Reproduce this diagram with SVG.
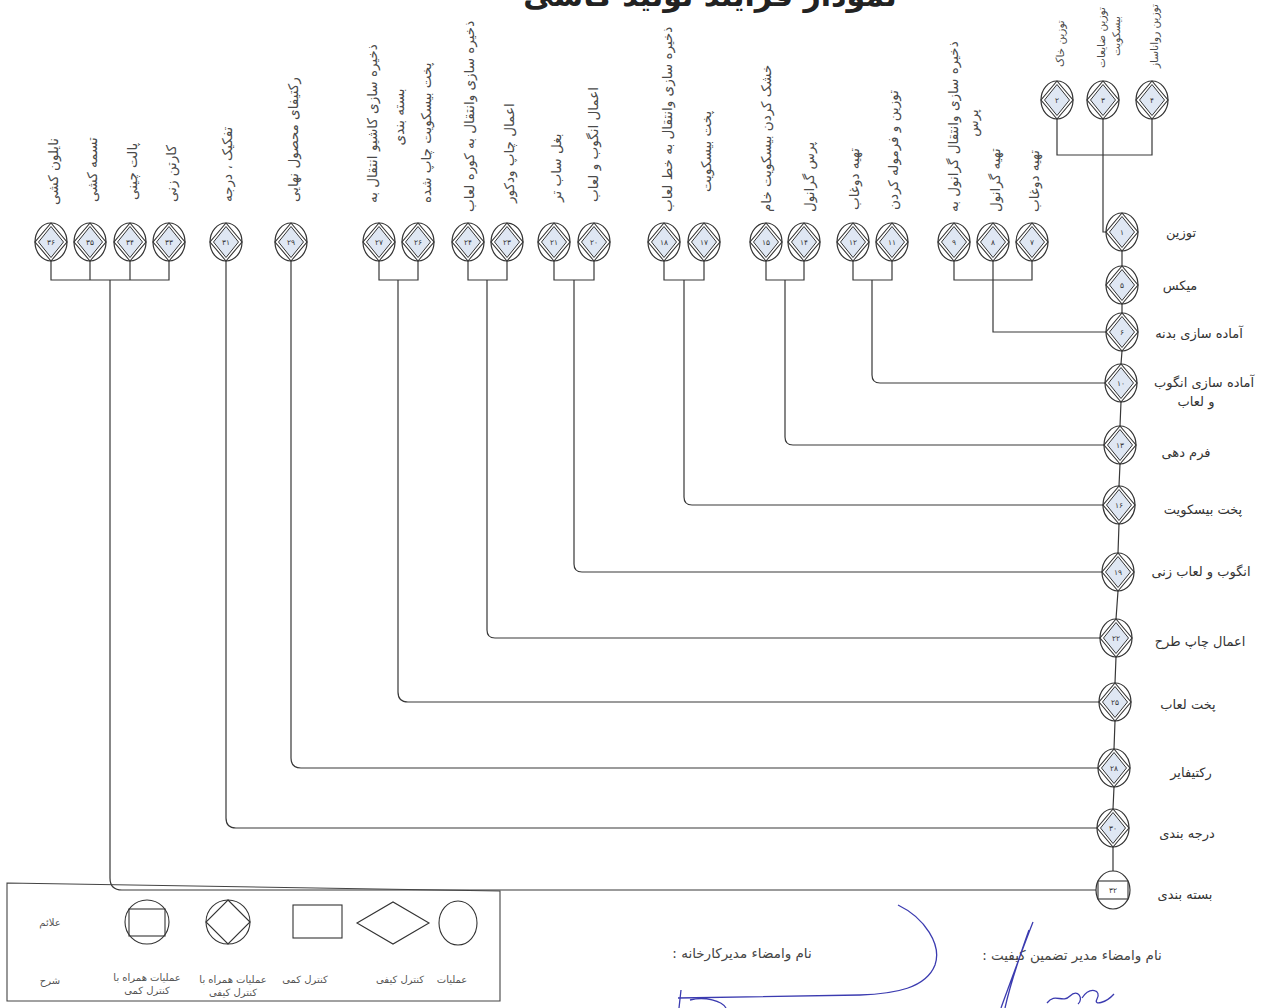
<svg xmlns="http://www.w3.org/2000/svg" xmlns:xlink="http://www.w3.org/1999/xlink" width="1269" height="1008" viewBox="0 0 1269 1008">
<style>
.ln{fill:none;stroke:#383838;stroke-width:1.2}
.num{font-family:"DejaVu Sans",sans-serif;font-size:7.5px;fill:#333;text-anchor:middle}
.vl{font-family:"DejaVu Sans",sans-serif;font-size:13.5px;fill:#4a4a4a}
.vm{font-family:"DejaVu Sans",sans-serif;font-size:13.5px;fill:#4a4a4a;text-anchor:middle}
.vt{font-family:"DejaVu Sans",sans-serif;font-size:10.5px;fill:#4a4a4a}
.vtm{font-family:"DejaVu Sans",sans-serif;font-size:10.5px;fill:#4a4a4a;text-anchor:middle}
.ml{font-family:"DejaVu Sans",sans-serif;font-size:13px;fill:#333;text-anchor:middle}
.lg{font-family:"DejaVu Sans",sans-serif;font-size:10px;fill:#555;text-anchor:middle}
.sg{font-family:"DejaVu Sans",sans-serif;font-size:13.5px;fill:#444;text-anchor:middle}
.ttl{font-family:"DejaVu Sans",sans-serif;font-size:30px;font-weight:bold;fill:#222;text-anchor:middle}
.sig{fill:none;stroke:#3b3bb0;stroke-width:1.3}
.sh{fill:none;stroke:#333;stroke-width:1.1}
</style>
<defs>
<g id="oq">
<ellipse rx="16" ry="19" fill="#fff" stroke="#333" stroke-width="1.2"/>
<polygon points="0,-19 16,0 0,19 -16,0" fill="none" stroke="#333" stroke-width="1.1"/>
<polygon points="0,-15.5 12.5,0 0,15.5 -12.5,0" fill="#dfe7f3" stroke="#333" stroke-width="1"/>
</g>
<g id="oc">
<ellipse rx="17" ry="19" fill="#fff" stroke="#333" stroke-width="1.2"/>
<rect x="-15" y="-9" width="30" height="18" fill="#fff" stroke="#333" stroke-width="1.1"/>
</g>
</defs>
<rect width="1269" height="1008" fill="#fff"/>
<text class="ttl" x="710" y="6">نمودار فرآیند تولید کاشی</text>

<g id="connectors">
<path class="ln" d="M1057,119 V155 H1152 V119 M1103,119 V232 H1106"/>
<path class="ln" d="M1122,251 L1122,266 M1122,304 L1122,313 M1122,351 L1121,364 M1121,402 L1120,426 M1120,464 L1119,486 M1119,524 L1118,553 M1118,591 L1116,619 M1116,657 L1115,683 M1115,721 L1114,749 M1114,787 L1113,809 M1113,847 L1113,871"/>
<path class="ln" d="M954,261 V280 H1032 V261 M993,261 V332 H1106"/>
<path class="ln" d="M853,261 V280 H892 V261 M872,280 V375 Q872,383 880,383 H1105"/>
<path class="ln" d="M766,261 V280 H804 V261 M785,280 V437 Q785,445 793,445 H1104"/>
<path class="ln" d="M664,261 V280 H704 V261 M684,280 V497 Q684,505 692,505 H1103"/>
<path class="ln" d="M554,261 V280 H594 V261 M574,280 V564 Q574,572 582,572 H1102"/>
<path class="ln" d="M468,261 V280 H507 V261 M487,280 V630 Q487,638 495,638 H1100"/>
<path class="ln" d="M379,261 V280 H418 V261 M398,280 V692 Q398,702 408,702 H1099"/>
<path class="ln" d="M291,261 V758 Q291,768 301,768 H1098"/>
<path class="ln" d="M226,261 V818 Q226,828 236,828 H1097"/>
<path class="ln" d="M51,261 V280 H169 V261 M90,261 V280 M130,261 V280 M110,280 V878 Q110,890 122,890 H1096"/>
</g>

<g id="n1" transform="translate(1122,232)"><use href="#oq"/><text class="num" y="3">۱</text></g>
<g id="n5" transform="translate(1122,285)"><use href="#oq"/><text class="num" y="3">۵</text></g>
<g id="n6" transform="translate(1122,332)"><use href="#oq"/><text class="num" y="3">۶</text></g>
<g id="n10" transform="translate(1121,383)"><use href="#oq"/><text class="num" y="3">۱۰</text></g>
<g id="n13" transform="translate(1120,445)"><use href="#oq"/><text class="num" y="3">۱۳</text></g>
<g id="n16" transform="translate(1119,505)"><use href="#oq"/><text class="num" y="3">۱۶</text></g>
<g id="n19" transform="translate(1118,572)"><use href="#oq"/><text class="num" y="3">۱۹</text></g>
<g id="n22" transform="translate(1116,638)"><use href="#oq"/><text class="num" y="3">۲۲</text></g>
<g id="n25" transform="translate(1115,702)"><use href="#oq"/><text class="num" y="3">۲۵</text></g>
<g id="n28" transform="translate(1114,768)"><use href="#oq"/><text class="num" y="3">۲۸</text></g>
<g id="n30" transform="translate(1113,828)"><use href="#oq"/><text class="num" y="3">۳۰</text></g>
<g id="n32" transform="translate(1113,890)"><use href="#oc"/><text class="num" y="3">۳۲</text></g>

<g id="main-labels">
<text class="ml" x="1181" y="237">توزین</text>
<text class="ml" x="1180" y="290">میکس</text>
<text class="ml" x="1199" y="338">آماده سازی بدنه</text>
<text class="ml" x="1204" y="387">آماده سازی انگوب</text>
<text class="ml" x="1196" y="406">و لعاب</text>
<text class="ml" x="1186" y="457">فرم دهی</text>
<text class="ml" x="1203" y="514">پخت بیسکویت</text>
<text class="ml" x="1201" y="576">انگوب و لعاب زنی</text>
<text class="ml" x="1200" y="646">اعمال چاپ طرح</text>
<text class="ml" x="1188" y="709">پخت لعاب</text>
<text class="ml" x="1191" y="777">رکتیفایر</text>
<text class="ml" x="1187" y="838">درجه بندی</text>
<text class="ml" x="1185" y="899">بسته بندی</text>
</g>

<g id="n2" transform="translate(1057,100)"><use href="#oq"/><text class="num" y="3">۲</text></g>
<g id="n3" transform="translate(1103,100)"><use href="#oq"/><text class="num" y="3">۳</text></g>
<g id="n4" transform="translate(1152,100)"><use href="#oq"/><text class="num" y="3">۴</text></g>
<text class="vt" transform="translate(1064,67) rotate(-90)">توزین خاک</text>
<text class="vt" transform="translate(1105,68) rotate(-90)">توزین ضایعات</text>
<text class="vtm" transform="translate(1120,36) rotate(-90)">بیسکویت</text>
<text class="vt" transform="translate(1158,68) rotate(-90)">توزین رواناساز</text>

<g id="n7" transform="translate(1032,242)"><use href="#oq"/><text class="num" y="3">۷</text></g>
<g id="n8" transform="translate(993,242)"><use href="#oq"/><text class="num" y="3">۸</text></g>
<g id="n9" transform="translate(954,242)"><use href="#oq"/><text class="num" y="3">۹</text></g>
<g id="n11" transform="translate(892,242)"><use href="#oq"/><text class="num" y="3">۱۱</text></g>
<g id="n12" transform="translate(853,242)"><use href="#oq"/><text class="num" y="3">۱۲</text></g>
<g id="n14" transform="translate(804,242)"><use href="#oq"/><text class="num" y="3">۱۴</text></g>
<g id="n15" transform="translate(766,242)"><use href="#oq"/><text class="num" y="3">۱۵</text></g>
<g id="n17" transform="translate(704,242)"><use href="#oq"/><text class="num" y="3">۱۷</text></g>
<g id="n18" transform="translate(664,242)"><use href="#oq"/><text class="num" y="3">۱۸</text></g>
<g id="n20" transform="translate(594,242)"><use href="#oq"/><text class="num" y="3">۲۰</text></g>
<g id="n21" transform="translate(554,242)"><use href="#oq"/><text class="num" y="3">۲۱</text></g>
<g id="n23" transform="translate(507,242)"><use href="#oq"/><text class="num" y="3">۲۳</text></g>
<g id="n24" transform="translate(468,242)"><use href="#oq"/><text class="num" y="3">۲۴</text></g>
<g id="n26" transform="translate(418,242)"><use href="#oq"/><text class="num" y="3">۲۶</text></g>
<g id="n27" transform="translate(379,242)"><use href="#oq"/><text class="num" y="3">۲۷</text></g>
<g id="n29" transform="translate(291,242)"><use href="#oq"/><text class="num" y="3">۲۹</text></g>
<g id="n31" transform="translate(226,242)"><use href="#oq"/><text class="num" y="3">۳۱</text></g>
<g id="n33" transform="translate(169,242)"><use href="#oq"/><text class="num" y="3">۳۳</text></g>
<g id="n34" transform="translate(130,242)"><use href="#oq"/><text class="num" y="3">۳۴</text></g>
<g id="n35" transform="translate(90,242)"><use href="#oq"/><text class="num" y="3">۳۵</text></g>
<g id="n36" transform="translate(51,242)"><use href="#oq"/><text class="num" y="3">۳۶</text></g>

<g id="side-labels">
<text class="vl" transform="translate(1039,212) rotate(-90)">تهیه دوغاب</text>
<text class="vl" transform="translate(1000,212) rotate(-90)">تهیه گرانول</text>
<text class="vl" transform="translate(958,212) rotate(-90)">ذخیره سازی وانتقال گرانول به</text>
<text class="vm" transform="translate(978,123) rotate(-90)">پرس</text>
<text class="vl" transform="translate(898,210) rotate(-90)">توزین و فرموله کردن</text>
<text class="vl" transform="translate(859,210) rotate(-90)">تهیه دوغاب</text>
<text class="vl" transform="translate(814,212) rotate(-90)">پرس گرانول</text>
<text class="vl" transform="translate(771,212) rotate(-90)">خشک کردن بیسکویت خام</text>
<text class="vl" transform="translate(711,192) rotate(-90)">پخت بیسکویت</text>
<text class="vl" transform="translate(672,212) rotate(-90)">ذخیره سازی وانتقال به خط لعاب</text>
<text class="vl" transform="translate(598,202) rotate(-90)">اعمال انگوب و لعاب</text>
<text class="vl" transform="translate(561,202) rotate(-90)">بغل ساب تر</text>
<text class="vl" transform="translate(514,203) rotate(-90)">اعمال چاپ ودکور</text>
<text class="vl" transform="translate(474,212) rotate(-90)">ذخیره سازی وانتقال به کوره لعاب</text>
<text class="vl" transform="translate(431,203) rotate(-90)">پخت بیسکویت چاپ شده</text>
<text class="vl" transform="translate(377,203) rotate(-90)">ذخیره سازی کاشیو انتقال به</text>
<text class="vm" transform="translate(404,117) rotate(-90)">بسته بندی</text>
<text class="vl" transform="translate(298,202) rotate(-90)">رکتیفای محصول نهایی</text>
<text class="vl" transform="translate(232,202) rotate(-90)">تفکیک ، درجه</text>
<text class="vl" transform="translate(176,202) rotate(-90)">کارتن زنی</text>
<text class="vl" transform="translate(137,200) rotate(-90)">پالت چینی</text>
<text class="vl" transform="translate(97,202) rotate(-90)">تسمه کشی</text>
<text class="vl" transform="translate(58,205) rotate(-90)">نایلون کشی</text>
</g>

<g id="legend">
<path d="M7,883 L500,891 L500,1001 L7,1001 Z" fill="none" stroke="#444" stroke-width="1.1"/>
<text class="lg" x="50" y="926">علائم</text>
<text class="lg" x="50" y="984">شرح</text>
<circle class="sh" cx="147" cy="922" r="22"/>
<rect class="sh" x="129" y="909" width="36" height="27"/>
<circle class="sh" cx="228" cy="922" r="22"/>
<polygon class="sh" points="228,900 250,922 228,944 206,922"/>
<rect class="sh" x="293" y="905" width="49" height="33"/>
<polygon class="sh" points="357,923 393,902 429,923 393,944"/>
<ellipse class="sh" cx="458" cy="923" rx="19" ry="22"/>
<text class="lg" x="147" y="981">عملیات همراه با</text>
<text class="lg" x="147" y="994">کنترل کمی</text>
<text class="lg" x="233" y="983">عملیات همراه با</text>
<text class="lg" x="233" y="996">کنترل کیفی</text>
<text class="lg" x="305" y="983">کنترل کمی</text>
<text class="lg" x="400" y="983">کنترل کیفی</text>
<text class="lg" x="452" y="983">عملیات</text>
</g>

<g id="signatures">
<text class="sg" x="742" y="958" direction="rtl">نام وامضاء مدیرکارخانه :</text>
<text class="sg" x="1072" y="960" direction="rtl">نام وامضاء مدیر تضمین کیفیت :</text>
<path class="sig" d="M898,905 C925,918 942,945 935,965 C926,988 895,994 860,995 L678,998"/>
<path class="sig" d="M681,990 L679,1008 M690,1000 C705,996 722,1001 726,1008"/>
<path class="sig" d="M1033,922 C1022,950 1012,978 1001,1008 M1029,930 C1019,958 1010,985 1005,1008"/>
<path class="sig" d="M1047,1003 C1055,992 1062,1004 1070,996 C1078,988 1084,999 1078,1004 M1082,998 C1090,986 1102,990 1097,999 C1093,1006 1106,1003 1114,994"/>
</g>
</svg>
